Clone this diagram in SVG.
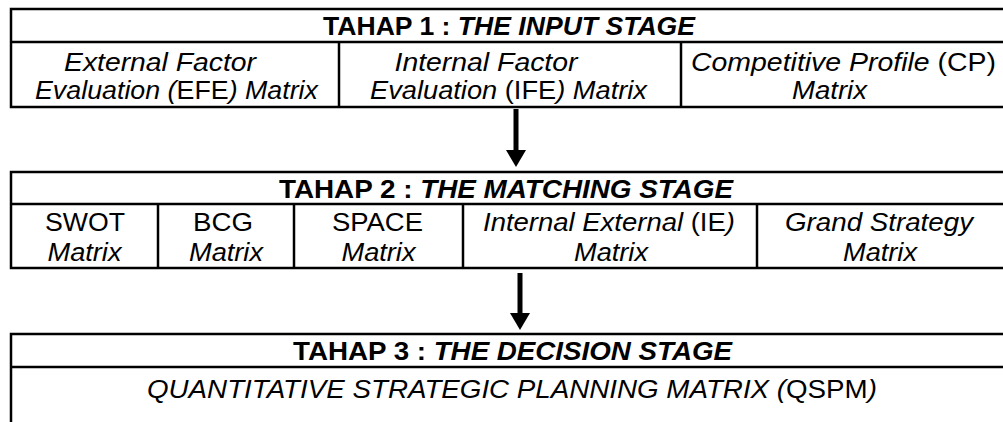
<svg xmlns="http://www.w3.org/2000/svg" width="1003" height="422" viewBox="0 0 1003 422">
<style>
.ln{stroke:#000;stroke-width:2.5;fill:none}
text{font-family:"Liberation Sans",Arial,sans-serif;font-size:26px;fill:#000;text-anchor:middle}
.t{font-weight:bold}
.i{font-style:italic}
.n{font-style:normal}
.stem{stroke:#000;stroke-width:5}
</style>
<defs>
<marker id="ah" markerWidth="4" markerHeight="4" refX="0" refY="2" orient="auto" markerUnits="strokeWidth">
<path d="M0,0 L3.4,2 L0,4 Z" fill="#000"/>
</marker>
</defs>
<g id="stage1">
<rect class="ln" x="11" y="9" width="1000" height="98"/>
<line class="ln" x1="11" y1="42" x2="1011" y2="42"/>
<line class="ln" x1="339" y1="42" x2="339" y2="107"/>
<line class="ln" x1="681" y1="42" x2="681" y2="107"/>
<text class="t" x="509" y="35" textLength="372" lengthAdjust="spacingAndGlyphs">TAHAP 1 : <tspan class="i">THE INPUT STAGE</tspan></text>
<text class="i" x="160" y="71" textLength="192" lengthAdjust="spacingAndGlyphs">External Factor</text>
<text class="i" x="176.5" y="98.5" textLength="283" lengthAdjust="spacingAndGlyphs">Evaluation (<tspan class="n">EFE</tspan>) Matrix</text>
<text class="i" x="486" y="71" textLength="183" lengthAdjust="spacingAndGlyphs">Internal Factor</text>
<text class="i" x="508.5" y="98.5" textLength="277" lengthAdjust="spacingAndGlyphs">Evaluation <tspan class="n">(IFE</tspan>) Matrix</text>
<text class="i" x="843.5" y="71" textLength="305" lengthAdjust="spacingAndGlyphs">Competitive Profile <tspan class="n">(CP)</tspan></text>
<text class="i" x="829.5" y="98.5" textLength="75" lengthAdjust="spacingAndGlyphs">Matrix</text>
</g>
<g id="stage2">
<rect class="ln" x="11" y="172" width="1000" height="96"/>
<line class="ln" x1="11" y1="204" x2="1011" y2="204"/>
<line class="ln" x1="158" y1="204" x2="158" y2="268"/>
<line class="ln" x1="294" y1="204" x2="294" y2="268"/>
<line class="ln" x1="463" y1="204" x2="463" y2="268"/>
<line class="ln" x1="757" y1="204" x2="757" y2="268"/>
<text class="t" x="506" y="198" textLength="454" lengthAdjust="spacingAndGlyphs">TAHAP 2 : <tspan class="i">THE MATCHING STAGE</tspan></text>
<text x="85" y="230.5" textLength="80" lengthAdjust="spacingAndGlyphs">SWOT</text>
<text class="i" x="84.5" y="261" textLength="74" lengthAdjust="spacingAndGlyphs">Matrix</text>
<text x="223" y="230.5" textLength="60" lengthAdjust="spacingAndGlyphs">BCG</text>
<text class="i" x="226" y="261" textLength="74" lengthAdjust="spacingAndGlyphs">Matrix</text>
<text x="377.5" y="230.5" textLength="91" lengthAdjust="spacingAndGlyphs">SPACE</text>
<text class="i" x="378.5" y="261" textLength="74" lengthAdjust="spacingAndGlyphs">Matrix</text>
<text class="i" x="609" y="230.5" textLength="252" lengthAdjust="spacingAndGlyphs">Internal External <tspan class="n">(IE</tspan>)</text>
<text class="i" x="611" y="261" textLength="74" lengthAdjust="spacingAndGlyphs">Matrix</text>
<text class="i" x="879" y="230.5" textLength="188" lengthAdjust="spacingAndGlyphs">Grand Strategy</text>
<text class="i" x="880" y="261" textLength="74" lengthAdjust="spacingAndGlyphs">Matrix</text>
</g>
<g id="stage3">
<path class="ln" d="M11,430 L11,334 L1011,334 M11,367 L1011,367"/>
<text class="t" x="512.5" y="359.5" textLength="439" lengthAdjust="spacingAndGlyphs">TAHAP 3 : <tspan class="i">THE DECISION STAGE</tspan></text>
<text class="i" x="512" y="398" textLength="730" lengthAdjust="spacingAndGlyphs">QUANTITATIVE STRATEGIC PLANNING MATRIX (<tspan class="n">QSPM</tspan>)</text>
</g>
<g id="connectors">
<line class="stem" x1="516" y1="109" x2="516" y2="150" marker-end="url(#ah)"/>
<line class="stem" x1="520" y1="273" x2="520" y2="313" marker-end="url(#ah)"/>
</g>
</svg>
